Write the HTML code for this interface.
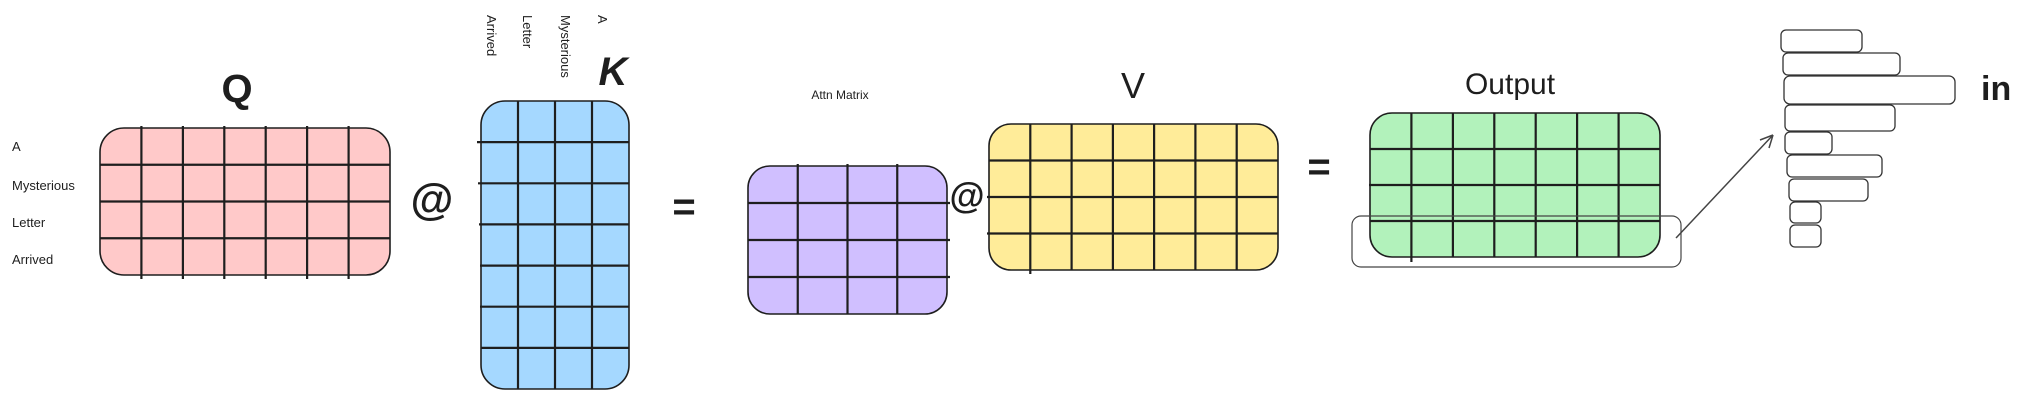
<!DOCTYPE html>
<html><head><meta charset="utf-8"><style>
html,body{margin:0;padding:0;background:#fff;width:2022px;height:404px;overflow:hidden}
svg{display:block}
text{font-family:"Liberation Sans",sans-serif;fill:#1e1e1e}
</style></head><body>
<svg width="2022" height="404" viewBox="0 0 2022 404" xmlns="http://www.w3.org/2000/svg">
<g stroke="#1e1e1e" stroke-width="2.2" fill="none">
<!-- Q -->
<rect x="100" y="128" width="290" height="147" rx="24" fill="#ffc9c9" stroke-width="1.6"/>
<path d="M141.4 126V279M182.9 126V279M224.3 126V279M265.7 126V279M307.1 126V279M348.6 126V279M100 164.75H390M100 201.5H390M100 238.25H390"/>
<!-- K -->
<rect x="481" y="101" width="148" height="288" rx="24" fill="#a5d8ff" stroke-width="1.6"/>
<path d="M518 101V389M555 101V389M592 101V389M477 142.1H629M478 183.3H629M479 224.4H629M480 265.6H629M480 306.7H629M481 347.9H629"/>
<!-- Attn -->
<rect x="748" y="166" width="199" height="148" rx="22" fill="#d0bfff" stroke-width="1.6"/>
<path d="M797.75 164V314M847.5 164V314M897.25 164V314M748 203H950M748 240H950M748 277H950"/>
<!-- V -->
<rect x="989" y="124" width="289" height="146" rx="22" fill="#ffec99" stroke-width="1.6"/>
<path d="M1030.3 124V274M1071.6 124V270M1112.9 124V270M1154.1 124V270M1195.4 124V270M1236.7 124V270M989 160.5H1278M987 197H1278M987 233.5H1278"/>
<!-- Output -->
<rect x="1370" y="113" width="290" height="144" rx="22" fill="#b2f2bb" stroke-width="1.6"/>
<path d="M1411.4 113V262M1452.9 113V257M1494.3 113V257M1535.7 113V257M1577.1 113V257M1618.6 113V257M1370 149H1660M1369 185H1660M1370 221H1660"/>
</g>
<!-- highlight -->
<rect x="1352" y="216" width="329" height="51" rx="9" fill="none" stroke="#444" stroke-width="1.2"/>
<!-- arrow -->
<g stroke="#444" stroke-width="1.5" fill="none">
<path d="M1676 238L1773 135"/>
<path d="M1773 135L1760 140M1773 135L1769 148"/>
</g>
<!-- bars -->
<g fill="none" stroke="#333" stroke-width="1.3">
<rect x="1781" y="30" width="81" height="22" rx="5"/>
<rect x="1783" y="53" width="117" height="22" rx="5"/>
<rect x="1784" y="76" width="171" height="28" rx="6"/>
<rect x="1785" y="105" width="110" height="26" rx="5"/>
<rect x="1785" y="132" width="47" height="22" rx="5"/>
<rect x="1787" y="155" width="95" height="22" rx="5"/>
<rect x="1789" y="179" width="79" height="22" rx="5"/>
<rect x="1790" y="202" width="31" height="21" rx="5"/>
<rect x="1790" y="225" width="31" height="22" rx="5"/>
</g>
<!-- labels -->
<g font-weight="bold">
<text x="237" y="102" font-size="40" text-anchor="middle">Q</text>
<text x="613" y="85" font-size="40" text-anchor="middle" font-style="italic">K</text>
<text x="432" y="214" font-size="44" text-anchor="middle">@</text>
<text x="967" y="208" font-size="36" text-anchor="middle">@</text>
<text x="684" y="220" font-size="40" text-anchor="middle">=</text>
<text x="1319" y="180" font-size="40" text-anchor="middle">=</text>
<text x="1133" y="98" font-size="36" text-anchor="middle" font-weight="normal">V</text>
<text x="1510" y="94" font-size="30" text-anchor="middle" font-weight="normal">Output</text>
<text x="1981" y="100" font-size="34">in</text>
</g>
<g font-size="13">
<text x="12" y="151">A</text>
<text x="12" y="190">Mysterious</text>
<text x="12" y="227">Letter</text>
<text x="12" y="264">Arrived</text>
<text x="840" y="99" text-anchor="middle" font-size="12">Attn Matrix</text>
<text transform="translate(487,15) rotate(90)">Arrived</text>
<text transform="translate(523,15) rotate(90)">Letter</text>
<text transform="translate(561,15) rotate(90)">Mysterious</text>
<text transform="translate(598,15) rotate(90)">A</text>
</g>
</svg>
</body></html>
